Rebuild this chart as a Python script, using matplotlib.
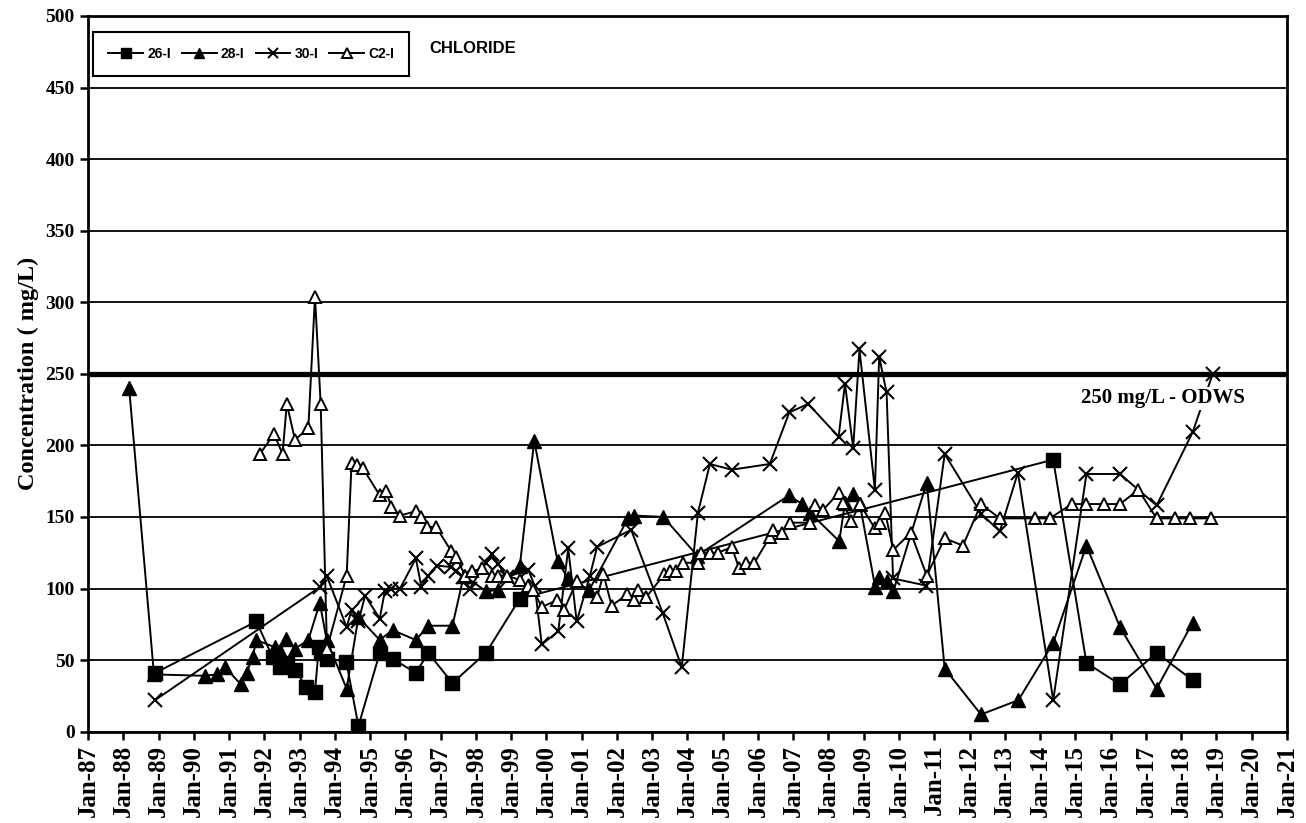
#!/usr/bin/env python

import pandas as pd
import matplotlib
matplotlib.use('Agg')
from matplotlib import pyplot
import matplotlib.dates as mdates

SERIF = 'Liberation Serif'
SANS = 'Liberation Sans'

# sample dates and chloride concentrations (mg/L) per well
dates_26 = ['1988-11-25', '1991-10-11', '1992-03-27', '1992-06-13', '1992-08-21', '1992-11-14',
            '1993-03-13', '1993-06-09', '1993-07-19', '1993-08-14', '1993-10-08', '1994-04-29',
            '1994-09-02', '1995-04-11', '1995-08-21', '1996-04-19', '1996-08-25', '1997-05-03',
            '1998-04-15', '1999-04-01', '2014-05-17', '2015-04-26', '2016-04-08', '2017-04-22',
            '2018-04-29']
cl_26 = [41, 77, 52, 45, 48, 43, 31, 28, 59, 55, 51, 49, 4, 55, 51, 41, 55, 34, 55, 93,
         190, 48, 33, 55, 36]

dates_28 = ['1988-03-02', '1988-11-14', '1990-04-26', '1990-08-25', '1990-11-21', '1991-05-03',
            '1991-07-01', '1991-09-02', '1991-10-11', '1992-04-19', '1992-06-13', '1992-08-17',
            '1992-11-14', '1993-04-01', '1993-07-29', '1993-10-08', '1994-05-03', '1994-09-02',
            '1995-04-11', '1995-08-21', '1996-04-19', '1996-08-25', '1997-05-03', '1997-08-28',
            '1998-04-19', '1998-08-17', '1999-04-01', '1999-08-28', '2000-04-26', '2000-08-14',
            '2001-03-20', '2002-04-26', '2002-06-23', '2003-04-26', '2004-04-11', '2006-11-17',
            '2007-04-04', '2007-06-23', '2008-04-22', '2008-06-20', '2008-09-13', '2008-11-21',
            '2009-04-29', '2009-06-09', '2009-08-25', '2009-11-03', '2010-10-15', '2011-04-19',
            '2012-04-29', '2013-05-21', '2014-05-17', '2015-04-26', '2016-04-08', '2017-04-22',
            '2018-04-29']
cl_28 = [240, 40, 39, 40, 45, 33, 41, 52, 64, 59, 56, 65, 58, 64, 90, 64, 30, 80, 64, 71, 64,
         74, 74, 109, 98, 99, 116, 203, 119, 107, 99, 149, 151, 150, 123, 165, 159, 153, 133,
         160, 166, 159, 101, 108, 105, 98, 174, 44, 12, 22, 62, 130, 73, 30, 76]

dates_30 = ['1988-11-25', '1993-07-29', '1993-10-08', '1994-05-03', '1994-06-23', '1994-09-02',
            '1994-11-10', '1995-04-11', '1995-06-02', '1995-08-10', '1995-11-07', '1996-04-19',
            '1996-06-16', '1996-08-25', '1996-11-21', '1997-04-22', '1997-06-13', '1997-08-21',
            '1997-10-29', '1998-04-15', '1998-06-13', '1998-08-21', '1998-11-14', '1999-06-27',
            '1999-09-02', '1999-11-14', '2000-05-03', '2000-08-14', '2000-11-10', '2001-03-27',
            '2001-06-09', '2002-05-28', '2003-04-19', '2003-11-03', '2004-04-19', '2004-08-21',
            '2005-04-04', '2006-05-03', '2006-11-21', '2007-06-05', '2008-04-15', '2008-06-20',
            '2008-09-13', '2008-11-17', '2009-04-26', '2009-06-09', '2009-08-25', '2009-10-31',
            '2010-10-12', '2011-04-19', '2012-05-03', '2012-11-10', '2013-05-17', '2014-05-17',
            '2015-04-26', '2016-04-08', '2017-04-22', '2018-04-29', '2018-11-25']
cl_30 = [22, 101, 109, 73, 85, 77, 95, 79, 98, 100, 100, 121, 101, 109, 116, 115, 112, 108,
         100, 118, 124, 117, 108, 113, 102, 61, 70, 128, 77, 109, 129, 141, 83, 45, 153, 187,
         183, 187, 223, 229, 206, 243, 198, 267, 169, 262, 237, 107, 102, 194, 152, 140, 181,
         22, 180, 180, 158, 209, 250]

dates_c2 = ['1991-11-17', '1992-04-11', '1992-07-08', '1992-08-21', '1992-11-14', '1993-04-01',
            '1993-06-09', '1993-08-07', '1993-10-11', '1994-05-03', '1994-06-23', '1994-08-14',
            '1994-10-19', '1995-04-11', '1995-06-13', '1995-08-10', '1995-11-07', '1996-04-19',
            '1996-06-16', '1996-08-17', '1996-11-14', '1997-04-22', '1997-06-13', '1997-09-09',
            '1997-11-17', '1998-03-02', '1998-06-13', '1998-08-21', '1998-11-14', '1999-04-01',
            '1999-06-27', '1999-08-17', '1999-11-14', '2000-04-22', '2000-07-01', '2000-11-10',
            '2001-06-09', '2001-08-14', '2001-11-07', '2002-04-19', '2002-06-23', '2002-08-10',
            '2002-10-31', '2003-05-07', '2003-07-01', '2003-09-05', '2003-11-14', '2004-04-22',
            '2004-05-25', '2004-08-21', '2004-11-14', '2005-04-04', '2005-06-20', '2005-08-28',
            '2005-11-25', '2006-05-03', '2006-06-08', '2006-09-02', '2006-11-25', '2007-06-23',
            '2007-08-14', '2007-11-07', '2008-04-19', '2008-06-02', '2008-08-25', '2008-11-21',
            '2009-04-26', '2009-06-13', '2009-08-10', '2009-11-03', '2010-05-03', '2010-10-15',
            '2011-04-19', '2011-10-25', '2012-04-29', '2012-11-10', '2013-11-10', '2014-04-11',
            '2014-11-25', '2015-04-26', '2015-10-25', '2016-04-08', '2016-10-15', '2017-04-22',
            '2017-10-29', '2018-04-08', '2018-11-03']
cl_c2 = [194, 208, 194, 229, 204, 212, 304, 229, 58, 109, 188, 186, 184, 165, 168, 157, 151,
         154, 150, 143, 143, 126, 122, 109, 112, 114, 109, 109, 109, 106, 102, 99, 87, 92, 85,
         105, 94, 110, 88, 96, 92, 99, 94, 110, 112, 112, 118, 118, 125, 125, 125, 129, 114,
         118, 118, 136, 141, 139, 146, 146, 158, 155, 167, 160, 147, 159, 142, 146, 153, 127,
         139, 109, 135, 130, 159, 149, 149, 149, 159, 159, 159, 159, 169, 149, 149, 149, 149]

ODWS = 250


def main():
    fig = pyplot.figure(figsize=(13.06, 8.23), dpi=100)
    ax = fig.add_axes([0.0674, 0.111, 0.918, 0.8696])

    common = dict(color='black', lw=1.4)
    ax.plot(pd.to_datetime(dates_26), cl_26, marker='s', ms=10, mfc='black', mec='black',
            label='26-I', zorder=4, **common)
    ax.plot(pd.to_datetime(dates_28), cl_28, marker='^', ms=10, mfc='black', mec='black',
            label='28-I', zorder=4, **common)
    ax.plot(pd.to_datetime(dates_30), cl_30, marker='x', ms=10, mew=1.5, mec='black',
            label='30-I', zorder=4, **common)
    ax.plot(pd.to_datetime(dates_c2), cl_c2, marker='^', ms=9, mfc='white', mec='black',
            mew=1.4, label='C2-I', zorder=4, **common)

    # drinking water standard
    ax.axhline(ODWS, color='black', lw=3.8, zorder=3)
    ax.text(pd.Timestamp('2017-06-25'), 233, '250 mg/L - ODWS', ha='center', va='center',
            fontfamily=SERIF, fontweight='bold', fontsize=15, zorder=5,
            bbox={'facecolor': 'white', 'edgecolor': 'none', 'pad': 1})

    ax.set_ylim(0, 500)
    ax.set_yticks(range(0, 501, 50))
    ax.set_xlim(pd.Timestamp('1987-01-01'), pd.Timestamp('2021-01-01'))
    ax.xaxis.set_major_locator(mdates.YearLocator(1, month=1, day=1))
    ax.xaxis.set_major_formatter(mdates.DateFormatter('%b-%y'))
    ax.yaxis.grid(True, color='black', lw=1.3)
    ax.set_axisbelow(True)

    for s in ax.spines.values():
        s.set_linewidth(2)
    ax.tick_params(axis='both', direction='out', length=6, width=1.8, color='black')
    for lab in ax.get_xticklabels():
        lab.set_rotation(90)
        lab.set_fontfamily(SERIF)
        lab.set_fontweight('bold')
        lab.set_fontsize(18)
    for lab in ax.get_yticklabels():
        lab.set_fontfamily(SERIF)
        lab.set_fontweight('bold')
        lab.set_fontsize(14)

    ax.set_ylabel('Concentration ( mg/L)', fontfamily=SERIF, fontweight='bold', fontsize=17.5,
                  labelpad=5)

    leg = ax.legend(loc='upper left', bbox_to_anchor=(0.0042, 0.9777), borderaxespad=0,
                    ncol=4, fancybox=False, framealpha=1, edgecolor='black',
                    prop={'family': SANS, 'weight': 'bold', 'size': 10},
                    handlelength=2.5, columnspacing=0.8, handletextpad=0.3, markerscale=0.75,
                    borderpad=1.1)
    leg.get_frame().set_linewidth(1.5)
    leg.set_zorder(6)

    ax.text(0.285, 0.955, 'CHLORIDE', transform=ax.transAxes, ha='left', va='center',
            fontfamily=SANS, fontweight='bold', fontsize=12)

    fig.savefig('out.png', dpi=100)
    pyplot.close(fig)


if __name__ == "__main__":
    main()
